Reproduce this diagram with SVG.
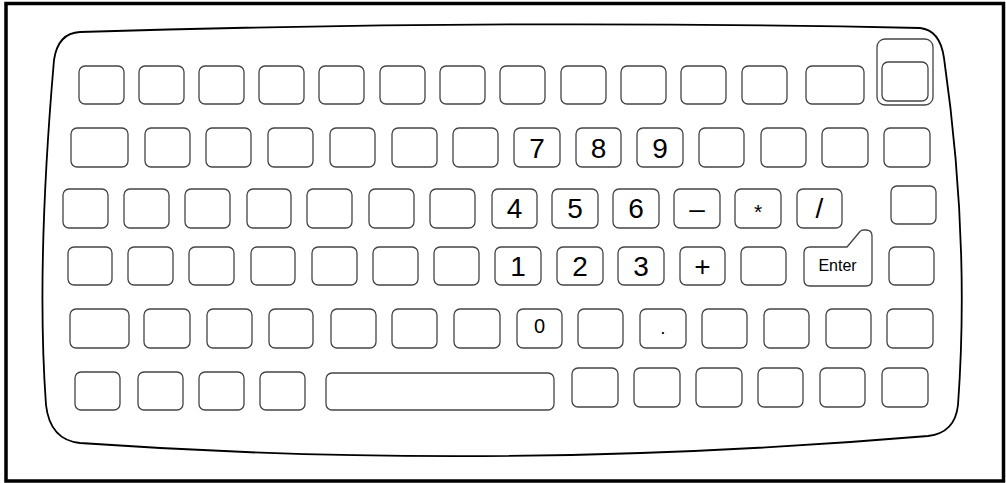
<svg xmlns="http://www.w3.org/2000/svg" width="1006" height="483" viewBox="0 0 1006 483">
<style>
.k{fill:#fff;stroke:#444;stroke-width:1.3}
.t{font-family:"Liberation Sans",Arial,sans-serif;fill:#000;text-anchor:middle}
.big{font-size:28px}
.sm{font-size:19px}
.md{font-size:21px}
.en{font-size:16px}
</style>
<rect x="0" y="0" width="1006" height="483" fill="#fff"/>
<rect id="frame" x="6" y="3.5" width="997.5" height="477.5" fill="none" stroke="#000" stroke-width="3.5"/>
<path id="body" d="M80,32 Q500,19 920,28 Q940,30 944,58 Q970,240 958,405 Q955,433 928,436 Q496,472.5 80,443 Q50,440 46,405 Q36,268 54,60 Q58,33 80,32 Z" fill="#fff" stroke="#000" stroke-width="1.8"/>
<g id="row1">
<rect id="k1_1" class="k" x="79" y="66" width="45" height="38" rx="6"/>
<rect id="k1_2" class="k" x="139" y="66" width="45" height="38" rx="6"/>
<rect id="k1_3" class="k" x="199" y="66" width="45" height="38" rx="6"/>
<rect id="k1_4" class="k" x="259" y="66" width="45" height="38" rx="6"/>
<rect id="k1_5" class="k" x="319" y="66" width="45" height="38" rx="6"/>
<rect id="k1_6" class="k" x="380" y="66" width="45" height="38" rx="6"/>
<rect id="k1_7" class="k" x="440" y="66" width="45" height="38" rx="6"/>
<rect id="k1_8" class="k" x="500" y="66" width="45" height="38" rx="6"/>
<rect id="k1_9" class="k" x="561" y="66" width="45" height="38" rx="6"/>
<rect id="k1_10" class="k" x="621" y="66" width="45" height="38" rx="6"/>
<rect id="k1_11" class="k" x="681" y="66" width="45" height="38" rx="6"/>
<rect id="k1_12" class="k" x="742" y="66" width="45" height="38" rx="6"/>
<rect id="k1_13" class="k" x="806" y="66" width="58" height="38" rx="6"/>
<g id="k1_14">
<rect class="k" x="877" y="39" width="56" height="66" rx="8"/>
<rect class="k" x="882" y="62" width="46" height="39" rx="6"/>
</g>
</g>
<g id="row2">
<rect id="k2_1" class="k" x="71" y="128" width="57" height="39" rx="6"/>
<rect id="k2_2" class="k" x="145" y="128" width="45" height="39" rx="6"/>
<rect id="k2_3" class="k" x="206" y="128" width="45" height="39" rx="6"/>
<rect id="k2_4" class="k" x="268" y="128" width="45" height="39" rx="6"/>
<rect id="k2_5" class="k" x="330" y="128" width="45" height="39" rx="6"/>
<rect id="k2_6" class="k" x="392" y="128" width="45" height="39" rx="6"/>
<rect id="k2_7" class="k" x="453" y="128" width="45" height="39" rx="6"/>
<g id="key7"><rect class="k" x="514" y="128" width="46" height="39" rx="6"/><text class="t big" x="537" y="157.5">7</text></g>
<g id="key8"><rect class="k" x="576" y="128" width="45" height="39" rx="6"/><text class="t big" x="598.5" y="157.5">8</text></g>
<g id="key9"><rect class="k" x="637" y="128" width="46" height="39" rx="6"/><text class="t big" x="660" y="157.5">9</text></g>
<rect id="k2_11" class="k" x="699" y="128" width="45" height="39" rx="6"/>
<rect id="k2_12" class="k" x="761" y="128" width="45" height="39" rx="6"/>
<rect id="k2_13" class="k" x="822" y="128" width="46" height="39" rx="6"/>
<rect id="k2_14" class="k" x="884" y="128" width="46" height="39" rx="6"/>
</g>
<g id="row3">
<rect id="k3_1" class="k" x="63" y="189" width="45" height="39" rx="6"/>
<rect id="k3_2" class="k" x="124" y="189" width="45" height="39" rx="6"/>
<rect id="k3_3" class="k" x="185" y="189" width="45" height="39" rx="6"/>
<rect id="k3_4" class="k" x="247" y="189" width="44" height="39" rx="6"/>
<rect id="k3_5" class="k" x="307" y="189" width="45" height="39" rx="6"/>
<rect id="k3_6" class="k" x="369" y="189" width="45" height="39" rx="6"/>
<rect id="k3_7" class="k" x="430" y="189" width="45" height="39" rx="6"/>
<g id="key4"><rect class="k" x="492" y="189" width="45" height="39" rx="6"/><text class="t big" x="514.5" y="218">4</text></g>
<g id="key5"><rect class="k" x="552" y="189" width="46" height="39" rx="6"/><text class="t big" x="575" y="218">5</text></g>
<g id="key6"><rect class="k" x="613" y="189" width="46" height="39" rx="6"/><text class="t big" x="636" y="218">6</text></g>
<g id="keyMinus"><rect class="k" x="674" y="189" width="46" height="39" rx="6"/><text class="t big" x="697" y="218">–</text></g>
<g id="keyMul"><rect class="k" x="735" y="189" width="46" height="39" rx="6"/><text class="t md" x="758" y="219">*</text></g>
<g id="keyDiv"><rect class="k" x="797" y="189" width="45" height="39" rx="6"/><text class="t big" x="819.5" y="218">/</text></g>
<rect id="k3_14" class="k" x="891" y="186" width="45" height="38" rx="6"/>
</g>
<g id="row4">
<rect id="k4_1" class="k" x="68" y="247" width="44" height="38" rx="6"/>
<rect id="k4_2" class="k" x="128" y="247" width="45" height="38" rx="6"/>
<rect id="k4_3" class="k" x="189" y="247" width="45" height="38" rx="6"/>
<rect id="k4_4" class="k" x="251" y="247" width="44" height="38" rx="6"/>
<rect id="k4_5" class="k" x="312" y="247" width="45" height="38" rx="6"/>
<rect id="k4_6" class="k" x="373" y="247" width="45" height="38" rx="6"/>
<rect id="k4_7" class="k" x="434" y="247" width="45" height="38" rx="6"/>
<g id="key1"><rect class="k" x="495" y="247" width="46" height="38" rx="6"/><text class="t big" x="518" y="276">1</text></g>
<g id="key2"><rect class="k" x="557" y="247" width="46" height="38" rx="6"/><text class="t big" x="580" y="276">2</text></g>
<g id="key3"><rect class="k" x="618" y="247" width="46" height="38" rx="6"/><text class="t big" x="641" y="276">3</text></g>
<g id="keyPlus"><rect class="k" x="680" y="247" width="45" height="38" rx="6"/><text class="t big" x="702.5" y="276">+</text></g>
<rect id="k4_12" class="k" x="741" y="247" width="45" height="38" rx="6"/>
<g id="keyEnter"><path class="k" d="M804,253 Q804,247 810,247 L847,247 L860,231.5 Q861,230 864,230 L866,230 Q872,230 872,236 L872,280 Q872,286 866,286 L810,286 Q804,286 804,280 Z"/><text class="t en" x="837.5" y="271">Enter</text></g>
<rect id="k4_14" class="k" x="889" y="247" width="45" height="38" rx="6"/>
</g>
<g id="row5">
<rect id="k5_1" class="k" x="70" y="309" width="59" height="39" rx="6"/>
<rect id="k5_2" class="k" x="144" y="309" width="46" height="39" rx="6"/>
<rect id="k5_3" class="k" x="207" y="309" width="45" height="39" rx="6"/>
<rect id="k5_4" class="k" x="269" y="309" width="44" height="39" rx="6"/>
<rect id="k5_5" class="k" x="331" y="309" width="45" height="39" rx="6"/>
<rect id="k5_6" class="k" x="392" y="309" width="45" height="39" rx="6"/>
<rect id="k5_7" class="k" x="454" y="309" width="46" height="39" rx="6"/>
<g id="key0"><rect class="k" x="517" y="309" width="45" height="39" rx="6"/><text class="t sm" x="539.5" y="333" style="font-size:20px">0</text></g>
<rect id="k5_9" class="k" x="578" y="309" width="45" height="39" rx="6"/>
<g id="keyDot"><rect class="k" x="640" y="309" width="46" height="39" rx="6"/><text class="t sm" x="663" y="334">.</text></g>
<rect id="k5_11" class="k" x="702" y="309" width="45" height="39" rx="6"/>
<rect id="k5_12" class="k" x="764" y="309" width="45" height="39" rx="6"/>
<rect id="k5_13" class="k" x="826" y="309" width="45" height="39" rx="6"/>
<rect id="k5_14" class="k" x="887" y="309" width="46" height="39" rx="6"/>
</g>
<g id="row6">
<rect id="k6_1" class="k" x="75" y="372" width="45" height="38" rx="6"/>
<rect id="k6_2" class="k" x="138" y="372" width="45" height="38" rx="6"/>
<rect id="k6_3" class="k" x="199" y="372" width="45" height="38" rx="6"/>
<rect id="k6_4" class="k" x="260" y="372" width="45" height="38" rx="6"/>
<rect id="space" class="k" x="326" y="373" width="228" height="37" rx="6"/>
<rect id="k6_6" class="k" x="572" y="368" width="46" height="39" rx="6"/>
<rect id="k6_7" class="k" x="634" y="368" width="46" height="39" rx="6"/>
<rect id="k6_8" class="k" x="696" y="368" width="46" height="39" rx="6"/>
<rect id="k6_9" class="k" x="758" y="368" width="45" height="39" rx="6"/>
<rect id="k6_10" class="k" x="820" y="368" width="45" height="39" rx="6"/>
<rect id="k6_11" class="k" x="882" y="368" width="46" height="39" rx="6"/>
</g>
<g id="connectors"/>
</svg>
